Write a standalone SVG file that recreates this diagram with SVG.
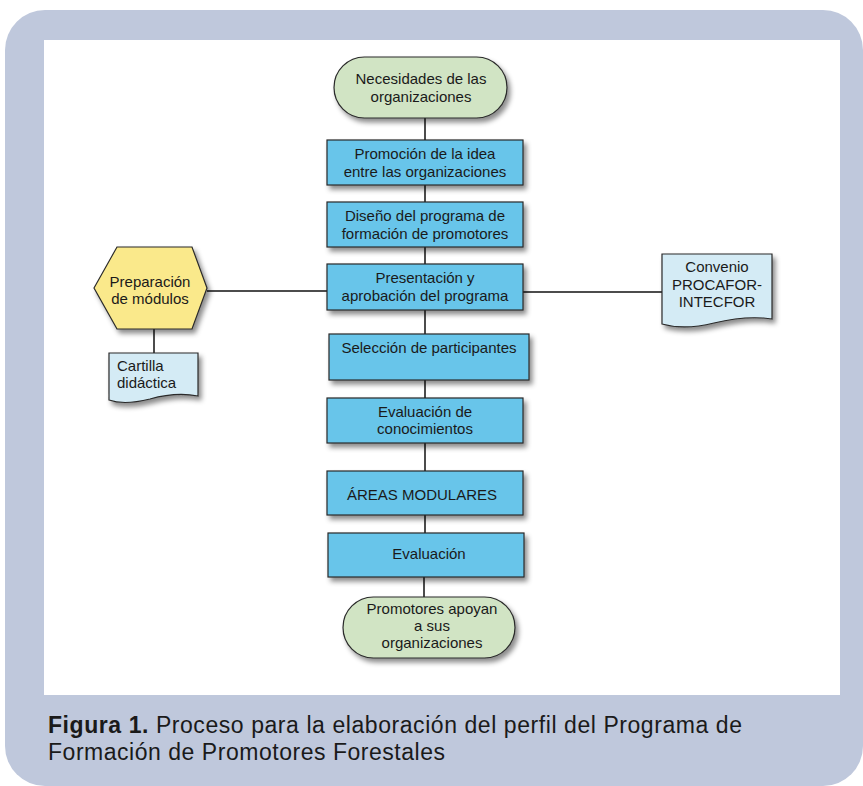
<svg xmlns="http://www.w3.org/2000/svg" width="863" height="786" viewBox="0 0 863 786">
<defs>
<filter id="sh" x="-20%" y="-20%" width="150%" height="160%">
<feDropShadow dx="3" dy="4" stdDeviation="2.5" flood-color="#000" flood-opacity="0.45"/>
</filter>
<style>
.box{fill:#68c5ea;stroke:#2a2a2a;stroke-width:1.2;filter:url(#sh)}
.term{fill:#d1e4c4;stroke:#2a2a2a;stroke-width:1.2;filter:url(#sh)}
.hex{fill:#fae98b;stroke:#2a2a2a;stroke-width:1.2;filter:url(#sh)}
.doc{fill:#d4ebf5;stroke:#2a2a2a;stroke-width:1.2;filter:url(#sh)}
.t{font-family:"Liberation Sans",Arial,sans-serif;font-size:15px;fill:#1a1a1a;text-anchor:middle}
.tl{font-family:"Liberation Sans",Arial,sans-serif;font-size:15px;fill:#1a1a1a}
.cap{font-family:"Liberation Sans",Arial,sans-serif;font-size:23px;fill:#1a1a1a}
.ln{stroke:#111;stroke-width:1.5;fill:none}
</style>
</defs>
<rect x="5" y="10" width="858" height="776" rx="40" fill="#bfc8dc"/>
<rect x="44" y="40" width="796" height="655" fill="#ffffff"/>

<g id="connectors">
<line class="ln" x1="425" y1="118" x2="425" y2="140"/>
<line class="ln" x1="425" y1="185" x2="425" y2="202" stroke="#555" stroke-width="1"/>
<line class="ln" x1="425" y1="247" x2="425" y2="264"/>
<line class="ln" x1="425" y1="310" x2="425" y2="334"/>
<line class="ln" x1="425" y1="380" x2="425" y2="398"/>
<line class="ln" x1="425" y1="443" x2="425" y2="471"/>
<line class="ln" x1="425" y1="515" x2="425" y2="533"/>
<line class="ln" x1="424" y1="577" x2="424" y2="597"/>
<line class="ln" x1="207" y1="291" x2="327" y2="291"/>
<line class="ln" x1="523" y1="292" x2="662" y2="292"/>
<line class="ln" x1="154" y1="329" x2="154" y2="353"/>
</g>

<g id="n-necesidades">
<rect class="term" x="334" y="57" width="173" height="61" rx="30.5"/>
<text class="t" x="421" y="84">Necesidades de las</text>
<text class="t" x="421" y="102">organizaciones</text>
</g>

<g id="n-promocion">
<rect class="box" x="327" y="140" width="196" height="45"/>
<text class="t" x="425" y="159">Promoción de la idea</text>
<text class="t" x="425" y="177">entre las organizaciones</text>
</g>

<g id="n-diseno">
<rect class="box" x="327" y="202" width="196" height="45"/>
<text class="t" x="425" y="221">Diseño del programa de</text>
<text class="t" x="425" y="239">formación de promotores</text>
</g>

<g id="n-presentacion">
<rect class="box" x="327" y="264" width="196" height="46"/>
<text class="t" x="425" y="283">Presentación y</text>
<text class="t" x="425" y="301">aprobación del programa</text>
</g>

<g id="n-seleccion">
<rect class="box" x="329" y="334" width="200" height="46"/>
<text class="t" x="429" y="353">Selección de participantes</text>
</g>

<g id="n-evaluacion-conoc">
<rect class="box" x="327" y="398" width="196" height="45"/>
<text class="t" x="425" y="417">Evaluación de</text>
<text class="t" x="425" y="434">conocimientos</text>
</g>

<g id="n-areas">
<rect class="box" x="327" y="471" width="196" height="44"/>
<text class="t" x="422" y="500">ÁREAS MODULARES</text>
</g>

<g id="n-evaluacion">
<rect class="box" x="328" y="533" width="196" height="44"/>
<text class="t" x="429" y="559">Evaluación</text>
</g>

<g id="n-promotores">
<rect class="term" x="343" y="597" width="172" height="61" rx="30.5"/>
<text class="t" x="432" y="614">Promotores apoyan</text>
<text class="t" x="432" y="631">a sus</text>
<text class="t" x="432" y="648">organizaciones</text>
</g>

<g id="n-preparacion">
<polygon class="hex" points="94,288 117,247 192,247 207,288 192,329 117,329"/>
<text class="t" x="150" y="287">Preparación</text>
<text class="t" x="150" y="304">de módulos</text>
</g>

<g id="n-cartilla">
<path class="doc" d="M109,353 H198 V396 C182,393 168,394 150,399 C134,403 120,404 109,400 Z"/>
<text class="tl" x="117" y="371">Cartilla</text>
<text class="tl" x="117" y="388">didáctica</text>
</g>

<g id="n-convenio">
<path class="doc" d="M662,254 H772 V319 C752,316 735,318 714,323 C694,328 676,328 662,324 Z"/>
<text class="t" x="717" y="272">Convenio</text>
<text class="t" x="717" y="290">PROCAFOR-</text>
<text class="t" x="717" y="307">INTECFOR</text>
</g>

<g id="caption">
<text class="cap" x="48" y="733" textLength="694" lengthAdjust="spacing"><tspan font-weight="bold">Figura 1.</tspan> Proceso para la elaboración del perfil del Programa de</text>
<text class="cap" x="48" y="760" textLength="397" lengthAdjust="spacing">Formación de Promotores Forestales</text>
</g>
</svg>
